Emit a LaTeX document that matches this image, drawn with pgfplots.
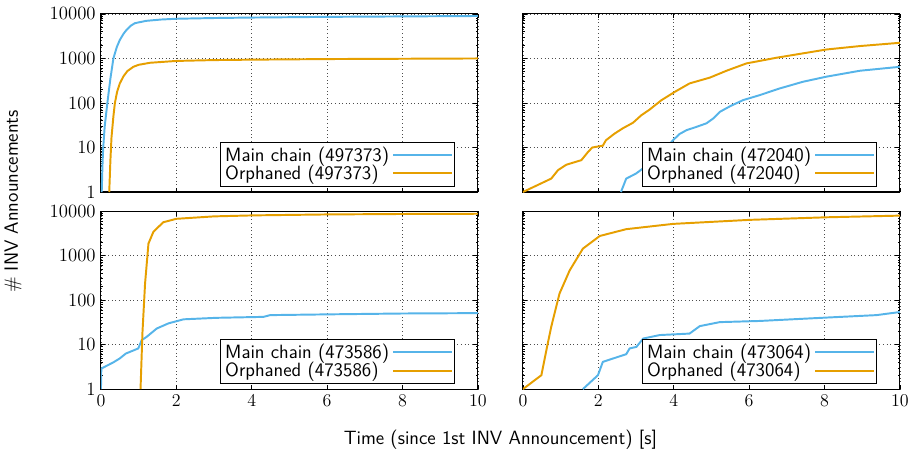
\documentclass[border=0pt]{standalone}
\usepackage{pgfplots}
\pgfplotsset{compat=1.18}
\usepgfplotslibrary{groupplots}
\usetikzlibrary{calc}
\definecolor{cblue}{RGB}{86,180,233}
\definecolor{corange}{RGB}{230,159,0}
\newcommand{\lblfont}{\sffamily\fontsize{12.8}{14.5}\selectfont}
\begin{document}
\begin{tikzpicture}
\pgfplotsset{
  every axis/.append style={
    scale only axis, width=251.3pt, height=118.7pt,
    ymode=log, ymin=1, ymax=10000, xmin=0, xmax=10,
    xtick={0,2,4,6,8,10},
    ytick={1,10,100,1000,10000},
    yticklabels={1,10,100,1000,10000},
    minor ytick={2,3,4,5,6,7,8,9,20,30,40,50,60,70,80,90,200,300,400,500,600,700,800,900,2000,3000,4000,5000,6000,7000,8000,9000},
    tick align=inside, xtick pos=both, ytick pos=both,
    major tick length=3pt, minor tick length=1.6pt,
    every tick/.style={black, line width=0.5pt},
    tick label style={font=\fontsize{12.5}{14}\selectfont},
    grid=major, major grid style={black!70, dotted, line width=0.5pt},
    axis line style={line width=0.7pt},
    legend plot pos=right,
    legend cell align=left,
    legend image code/.code={\draw[#1] (0pt,0pt) -- (39pt,0pt);},
    legend style={at={(rel axis cs:0.939,0.028)}, anchor=south east,
      draw=black, line width=0.6pt, font=\lblfont, inner sep=1.2pt, row sep=-3pt,
      cells={anchor=west}},
  },
}
\begin{groupplot}[group style={group size=2 by 2, horizontal sep=30pt, vertical sep=12.7pt,
    xticklabels at=edge bottom, yticklabels at=edge left}]
\nextgroupplot
\addplot[cblue, line width=1.3pt] coordinates {(0.02,1) (0.04,4) (0.06,10) (0.1,30) (0.17,100) (0.25,350) (0.33,1000) (0.42,1800) (0.5,2600) (0.6,3600) (0.68,4400) (0.8,5500) (0.9,6200) (1.2,7000) (1.6,7500) (2,7800) (3,8100) (4,8300) (6,8600) (8,8800) (10,9000)};
\addlegendentry{Main chain (497373)}
\addplot[corange, line width=1.3pt] coordinates {(0.22,1) (0.25,5) (0.28,17) (0.33,50) (0.37,100) (0.43,180) (0.5,275) (0.6,400) (0.7,520) (0.86,650) (1.0,720) (1.3,800) (2,880) (3,920) (4,940) (6,970) (8,985) (10,1000)};
\addlegendentry{Orphaned (497373)}

\nextgroupplot
\addplot[cblue, line width=1.3pt] coordinates {(2.6,1) (2.74,2) (3.0,2.6) (3.3,4) (3.6,7) (3.85,11) (3.98,14.5) (4.15,20) (4.34,24.5) (4.6,29) (4.87,35) (5.05,45) (5.22,63) (5.5,85) (5.84,116) (6.28,150) (6.81,212) (7.43,300) (8.05,390) (8.94,530) (10,650)};
\addlegendentry{Main chain (472040)}
\addplot[corange, line width=1.3pt] coordinates {(0,1) (0.75,2) (0.93,3.1) (1.15,4.1) (1.55,5.2) (1.73,8) (1.84,10) (2.12,11) (2.2,14.5) (2.43,20.5) (2.65,27) (2.92,36) (3.14,53) (3.36,71) (3.67,115) (4.03,178) (4.42,275) (4.96,372) (5.4,530) (5.93,775) (6.73,1040) (8.05,1590) (8.94,1900) (10,2250)};
\addlegendentry{Orphaned (472040)}

\nextgroupplot
\addplot[cblue, line width=1.3pt] coordinates {(0,1) (0.01,2.9) (0.33,4) (0.5,4.9) (0.66,6.3) (0.99,8.2) (1.08,12.6) (1.21,14.9) (1.48,23) (1.79,30) (2.19,37) (3.07,40) (4.31,42) (4.49,46) (6.17,48) (8,50) (10,51)};
\addlegendentry{Main chain (473586)}
\addplot[corange, line width=1.3pt] coordinates {(1.05,1) (1.1,18) (1.17,235) (1.26,1860) (1.39,3400) (1.65,5600) (2.0,6700) (3,7600) (4.04,8000) (6,8400) (8,8600) (10,8700)};
\addlegendentry{Orphaned (473586)}

\nextgroupplot
\addplot[cblue, line width=1.3pt] coordinates {(1.59,1) (1.99,2.06) (2.12,4.1) (2.74,6.1) (2.83,8.2) (3.01,8.9) (3.19,13.7) (3.63,16.4) (4.42,17.7) (4.69,26) (5.22,32) (6.28,34) (8.05,40.5) (9.38,46) (10,54)};
\addlegendentry{Main chain (473064)}
\addplot[corange, line width=1.3pt] coordinates {(0,1) (0.49,2.06) (0.64,8.9) (0.75,25) (0.97,140) (1.24,465) (1.59,1430) (2.04,2760) (2.74,3920) (3.98,5150) (6.02,6350) (8.05,7250) (10,7900)};
\addlegendentry{Orphaned (473064)}
\end{groupplot}
\node[rotate=90, font=\lblfont] at ($(group c1r1.north west)!0.5!(group c1r2.south west)+(-58.5pt,0)$) {\# INV Announcements};
\node[font=\lblfont] at ($(group c1r2.south west)!0.5!(group c2r2.south east)+(0,-34pt)$) {Time (since 1st INV Announcement) [s]};
\pgfresetboundingbox
\path (group c1r1.north west) ++(-67.3pt,9.3pt) rectangle ++(609.3pt,-302.7pt);
\end{tikzpicture}
\end{document}
